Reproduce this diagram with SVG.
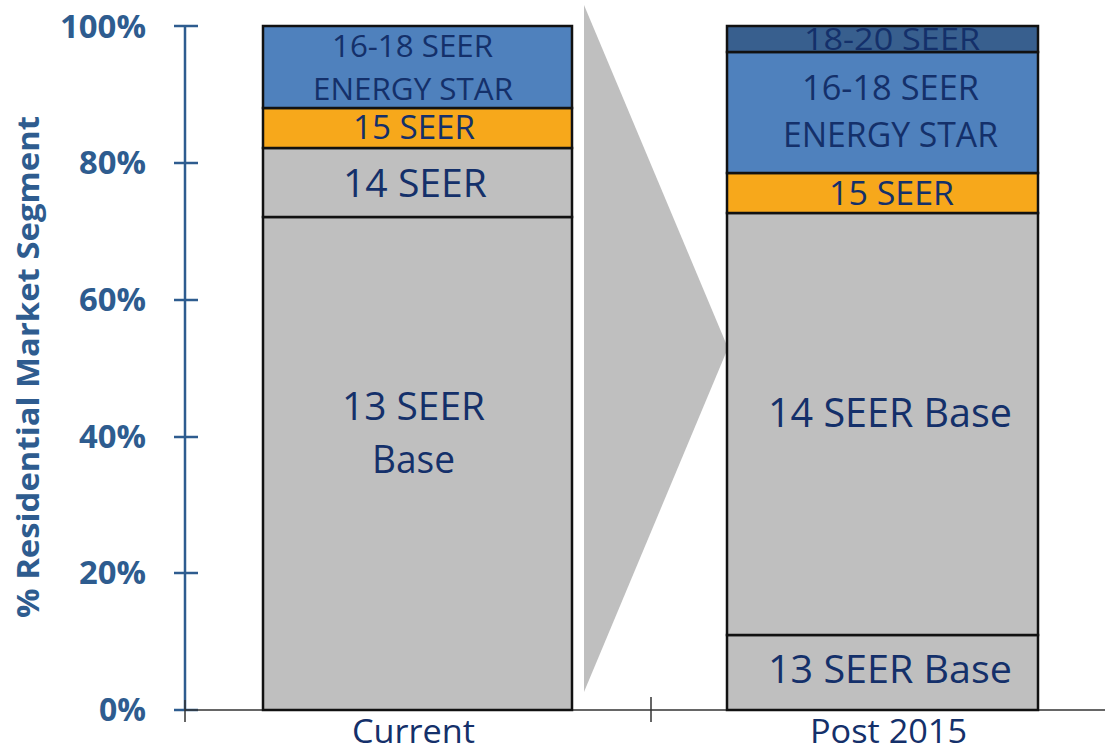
<svg xmlns="http://www.w3.org/2000/svg" width="1105" height="748" viewBox="0 0 1105 748">
<style>
.seg{stroke:#111;stroke-width:2.5}
.gray{fill:#BFBFBF}
.orange{fill:#F7A81B}
.blue{fill:#4F81BD}
.dblue{fill:#385F8E}
.lbl{font-family:"Open Sans","Liberation Sans",sans-serif;fill:#14306A;text-anchor:middle}
.ax{font-family:"Open Sans","Liberation Sans",sans-serif;font-weight:bold;fill:#2E5C8F;font-size:32px;text-anchor:end}
.cat{font-family:"Open Sans","Liberation Sans",sans-serif;fill:#14306A;font-size:32px;text-anchor:middle}
</style>
<defs>
<clipPath id="postTop"><rect x="727" y="26" width="311" height="30"/></clipPath>
</defs>
<rect width="1105" height="748" fill="#fff"/>

<g id="arrow">
<polygon points="584,5 728,348 584,692" fill="#BFBFBF"/>
</g>

<g id="axes">
<line x1="185" y1="26" x2="185" y2="710" stroke="#2E5C8F" stroke-width="2.5"/>
<g stroke="#2E5C8F" stroke-width="2.5">
<line x1="174" y1="26" x2="198" y2="26"/>
<line x1="174" y1="163" x2="198" y2="163"/>
<line x1="174" y1="300" x2="198" y2="300"/>
<line x1="174" y1="437" x2="198" y2="437"/>
<line x1="174" y1="573" x2="198" y2="573"/>
<line x1="174" y1="710" x2="198" y2="710"/>
</g>
<line x1="185" y1="710" x2="1105" y2="710" stroke="#333" stroke-width="1.5"/>
<line x1="185" y1="700" x2="185" y2="722" stroke="#333" stroke-width="1.5"/>
<line x1="651" y1="697" x2="651" y2="722" stroke="#333" stroke-width="1.5"/>
<text class="ax" x="146" y="38" textLength="86" lengthAdjust="spacingAndGlyphs">100%</text>
<text class="ax" x="146" y="174" textLength="67" lengthAdjust="spacingAndGlyphs">80%</text>
<text class="ax" x="146" y="311" textLength="67" lengthAdjust="spacingAndGlyphs">60%</text>
<text class="ax" x="146" y="448" textLength="67" lengthAdjust="spacingAndGlyphs">40%</text>
<text class="ax" x="146" y="584" textLength="67" lengthAdjust="spacingAndGlyphs">20%</text>
<text class="ax" x="146" y="721" textLength="47" lengthAdjust="spacingAndGlyphs">0%</text>
<text x="0" y="0" transform="translate(39,367) rotate(-90)" style="font-family:'Open Sans','Liberation Sans',sans-serif;font-weight:bold;fill:#2E5C8F;font-size:30px;text-anchor:middle" textLength="502" lengthAdjust="spacingAndGlyphs">% Residential Market Segment</text>
<text class="cat" x="413.5" y="743" textLength="123" lengthAdjust="spacingAndGlyphs">Current</text>
<text class="cat" x="888.5" y="743" textLength="157" lengthAdjust="spacingAndGlyphs">Post 2015</text>
</g>

<g id="current-bar">
<rect class="seg gray" x="263" y="217" width="309" height="493"/>
<rect class="seg gray" x="263" y="148" width="309" height="69"/>
<rect class="seg orange" x="263" y="108" width="309" height="40"/>
<rect class="seg blue" x="263" y="26" width="309" height="82"/>
<text class="lbl" x="412.5" y="57" font-size="31" textLength="161" lengthAdjust="spacingAndGlyphs">16-18 SEER</text>
<text class="lbl" x="413" y="100" font-size="31" textLength="200" lengthAdjust="spacingAndGlyphs">ENERGY STAR</text>
<text class="lbl" x="414" y="139" font-size="33" textLength="122" lengthAdjust="spacingAndGlyphs">15 SEER</text>
<text class="lbl" x="415" y="197" font-size="38" textLength="144" lengthAdjust="spacingAndGlyphs">14 SEER</text>
<text class="lbl" x="413.5" y="420" font-size="39" textLength="143" lengthAdjust="spacingAndGlyphs">13 SEER</text>
<text class="lbl" x="413.5" y="473" font-size="39" textLength="83" lengthAdjust="spacingAndGlyphs">Base</text>
</g>

<g id="post2015-bar">
<rect class="seg gray" x="727" y="635" width="311" height="75"/>
<rect class="seg gray" x="727" y="213" width="311" height="422"/>
<rect class="seg orange" x="727" y="173" width="311" height="40"/>
<rect class="seg blue" x="727" y="52" width="311" height="121"/>
<rect class="seg dblue" x="727" y="26" width="311" height="26"/>
<text class="lbl" x="892" y="50" font-size="31" textLength="176" lengthAdjust="spacingAndGlyphs" clip-path="url(#postTop)">18-20 SEER</text>
<text class="lbl" x="890.5" y="100" font-size="35" textLength="177" lengthAdjust="spacingAndGlyphs">16-18 SEER</text>
<text class="lbl" x="890.5" y="147" font-size="35" textLength="215" lengthAdjust="spacingAndGlyphs">ENERGY STAR</text>
<text class="lbl" x="891.5" y="205" font-size="33" textLength="125" lengthAdjust="spacingAndGlyphs">15 SEER</text>
<text class="lbl" x="890" y="427" font-size="40" textLength="244" lengthAdjust="spacingAndGlyphs">14 SEER Base</text>
<text class="lbl" x="890" y="683" font-size="39" textLength="244" lengthAdjust="spacingAndGlyphs">13 SEER Base</text>
</g>
</svg>
